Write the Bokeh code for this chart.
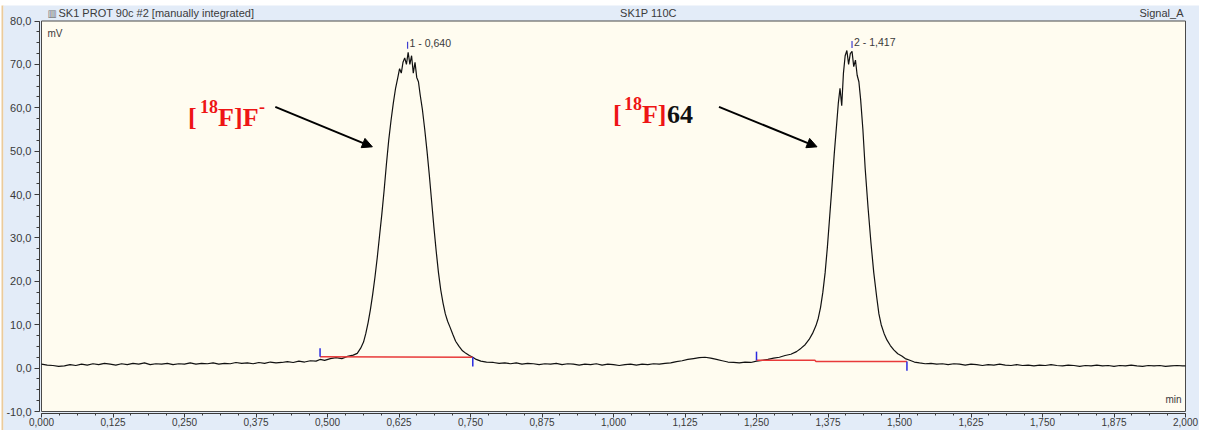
from bokeh.plotting import figure
from bokeh.models import Label, Arrow, NormalHead, FixedTicker, Range1d
from bokeh.embed import file_html
from bokeh.resources import INLINE

# ---------------- data ----------------
time_min = [
    0.00, 0.01, 0.02, 0.03, 0.04, 0.05, 0.06, 0.07, 0.08, 0.09,
    0.10, 0.11, 0.12, 0.13, 0.14, 0.15, 0.16, 0.17, 0.18, 0.19,
    0.20, 0.21, 0.22, 0.23, 0.24, 0.25, 0.26, 0.27, 0.28, 0.29,
    0.30, 0.31, 0.32, 0.33, 0.34, 0.35, 0.36, 0.37, 0.38, 0.39,
    0.40, 0.41, 0.42, 0.43, 0.44, 0.45, 0.46, 0.47, 0.48, 0.487,
    0.495, 0.505, 0.515, 0.525, 0.535, 0.545, 0.552, 0.558, 0.563, 0.567,
    0.571, 0.575, 0.579, 0.583, 0.587, 0.591, 0.595, 0.599, 0.603, 0.607,
    0.611, 0.615, 0.619, 0.623, 0.626, 0.629, 0.632, 0.635, 0.638, 0.641,
    0.644, 0.647, 0.650, 0.653, 0.656, 0.659, 0.662, 0.666, 0.670, 0.674,
    0.678, 0.682, 0.686, 0.690, 0.694, 0.698, 0.702, 0.706, 0.710, 0.714,
    0.719, 0.724, 0.730, 0.736, 0.742, 0.748, 0.754, 0.760, 0.768, 0.778,
    0.79, 0.80, 0.81, 0.82, 0.83, 0.84, 0.85, 0.86, 0.87, 0.88,
    0.89, 0.90, 0.91, 0.92, 0.93, 0.94, 0.95, 0.96, 0.97, 0.98,
    0.99, 1.00, 1.01, 1.02, 1.03, 1.04, 1.05, 1.06, 1.07, 1.08,
    1.09, 1.10, 1.11, 1.12, 1.13, 1.14, 1.15, 1.16, 1.17, 1.18,
    1.19, 1.20, 1.21, 1.22, 1.23, 1.24, 1.25, 1.26, 1.27, 1.28,
    1.29, 1.30, 1.31, 1.32, 1.328, 1.335, 1.342, 1.348, 1.354, 1.358,
    1.362, 1.366, 1.370, 1.374, 1.378, 1.382, 1.386, 1.390, 1.393, 1.396,
    1.399, 1.402, 1.405, 1.408, 1.411, 1.414, 1.417, 1.420, 1.423, 1.426,
    1.429, 1.432, 1.436, 1.440, 1.445, 1.450, 1.455, 1.460, 1.464, 1.468,
    1.473, 1.478, 1.484, 1.490, 1.497, 1.504, 1.510, 1.518, 1.526, 1.535,
    1.545, 1.555, 1.565, 1.575, 1.585, 1.595, 1.605, 1.615, 1.625, 1.635,
    1.645, 1.655, 1.665, 1.675, 1.685, 1.695, 1.705, 1.715, 1.725, 1.735,
    1.745, 1.755, 1.765, 1.775, 1.785, 1.795, 1.805, 1.815, 1.825, 1.835,
    1.845, 1.855, 1.865, 1.875, 1.885, 1.895, 1.905, 1.915, 1.925, 1.935,
    1.945, 1.955, 1.965, 1.975, 1.985, 1.995, 2.000,
]
signal_mv = [
    0.9, 0.7, 0.6, 0.4, 0.5, 0.8, 0.6, 0.9, 0.7, 1.0,
    0.8, 1.1, 0.9, 0.7, 1.0, 0.8, 1.1, 0.9, 1.2, 0.8,
    1.0, 0.9, 1.1, 0.8, 1.0, 0.9, 1.2, 0.9, 1.1, 1.0,
    1.2, 0.9, 1.1, 1.0, 1.3, 1.1, 1.2, 1.0, 1.3, 1.1,
    1.4, 1.2, 1.3, 1.5, 1.3, 1.6, 1.4, 1.7, 1.6, 2.0,
    1.8, 2.2, 2.4, 2.2, 2.7, 3.0, 3.4, 4.6, 6.0, 8.0,
    10.5, 13.5, 17.0, 21.0, 25.5, 30.5, 35.5, 41.0, 47.0, 52.5,
    57.0, 61.0, 64.5, 67.0, 69.0, 68.0, 70.5, 71.5, 70.0, 72.8,
    70.0, 72.0, 68.0, 70.5, 67.0, 66.0, 63.0, 59.5, 55.0, 50.0,
    44.5, 38.5, 32.5, 27.0, 22.0, 18.0, 15.0, 12.5, 10.8, 9.5,
    7.8, 6.2, 5.0, 4.0, 3.4, 2.9, 2.5, 2.0, 1.6, 1.4,
    1.3, 1.1, 1.2, 1.0, 1.2, 0.9, 1.1, 1.0, 0.8, 1.0,
    0.9, 1.1, 0.8, 1.0, 0.9, 0.7, 0.9, 0.8, 1.0, 0.7,
    0.9, 0.8, 0.6, 0.8, 0.9, 0.7, 0.9, 0.8, 1.0, 0.9,
    1.1, 1.2, 1.5, 1.7, 2.0, 2.2, 2.4, 2.5, 2.3, 2.0,
    1.7, 1.4, 1.3, 1.2, 1.4, 1.3, 1.6, 1.8, 2.0, 2.3,
    2.5, 2.9, 3.2, 3.8, 4.6, 5.4, 6.6, 8.0, 9.8, 11.5,
    14.0, 17.5, 22.0, 28.0, 35.0, 42.0, 49.5, 56.0, 61.0, 64.5,
    60.5, 68.0, 72.0, 73.2, 70.0, 72.5, 73.0, 69.5, 71.0, 67.5,
    66.0, 62.0, 55.0, 46.0, 37.0, 29.0, 22.0, 16.5, 12.5, 10.0,
    8.0, 6.5, 5.2, 4.2, 3.3, 2.8, 2.2, 1.8, 1.4, 1.2,
    1.0, 1.1, 0.9, 1.0, 0.8, 1.0, 0.9, 0.7, 0.9, 0.8,
    0.6, 0.8, 0.7, 0.9, 0.7, 0.6, 0.8, 0.6, 0.7, 0.5,
    0.7, 0.6, 0.8, 0.6, 0.5, 0.7, 0.6, 0.4, 0.6, 0.5,
    0.7, 0.5, 0.6, 0.4, 0.6, 0.5, 0.7, 0.5, 0.4, 0.6,
    0.5, 0.6, 0.4, 0.5, 0.6, 0.5, 0.5,
]

# integration baselines (red) and delimiters (blue)
base1_t = [0.487, 0.754]
base1_mv = [2.6, 2.5]
base2_t = [1.250, 1.352, 1.354, 1.513]
base2_mv = [1.8, 1.8, 1.5, 1.5]
delim_t = [0.487, 0.754, 1.250, 1.513]
delim_from = [2.6, 2.5, 1.8, 1.5]
delim_to = [4.6, 0.4, 3.8, -0.6]

# peaks
peak_t = [0.640, 1.417]
peak_top = [73.6, 73.8]
peak_names = ["1 - 0,640", "2 - 1,417"]

# axes
x_ticks = [0.0, 0.125, 0.25, 0.375, 0.5, 0.625, 0.75, 0.875, 1.0,
           1.125, 1.25, 1.375, 1.5, 1.625, 1.75, 1.875, 2.0]
x_tick_labels = ["0,000", "0,125", "0,250", "0,375", "0,500", "0,625", "0,750", "0,875", "1,000",
                 "1,125", "1,250", "1,375", "1,500", "1,625", "1,750", "1,875", "2,000"]
y_ticks = [-10, 0, 10, 20, 30, 40, 50, 60, 70, 80]
y_tick_labels = ["-10,0", "0,0", "10,0", "20,0", "30,0", "40,0", "50,0", "60,0", "70,0", "80,0"]

# ---------------- layout (pixel geometry of the window) ----------------
W, H = 1199, 430              # figure size; figure starts at window (8, 8)
X0_PX, X2_PX = 49.0, 1193.0   # window x of t=0 and t=2
Y80_PX, YM10_PX = 28.5, 419.0 # window y of 80 mV and -10 mV
KX = (X2_PX - X0_PX) / 2.0
KY = (YM10_PX - Y80_PX) / 90.0


def X(wx):
    return (wx - X0_PX) / KX


def Y(wy):
    return 80.0 - (wy - Y80_PX) / KY


BLUE_BG = "#E3ECF8"
CREAM = "#FFFCF0"
TAN = "#EBCB9B"
AX = "#3A3A3A"
TXT = "#3A3A3A"

p = figure(width=W, height=H,
           x_range=Range1d(X(8), X(8 + W)), y_range=Range1d(Y(8 + H), Y(8)),
           output_backend="svg", toolbar_location=None,
           min_border_left=0, min_border_right=0, min_border_top=0, min_border_bottom=0)
p.background_fill_color = "white"
p.border_fill_color = "white"
p.outline_line_color = None
p.grid.visible = False

# window chrome: tan rule, light-blue panel, cream plot area
p.quad(left=[X(9)], right=[X(11)], bottom=[Y(8 + H)], top=[Y(13)], fill_color=TAN, line_color=None)
p.quad(left=[X(11)], right=[X(8 + W)], bottom=[Y(8 + H)], top=[Y(13)], fill_color=BLUE_BG, line_color=None)
p.quad(left=[x_ticks[0]], right=[x_ticks[-1]], bottom=[y_ticks[0]], top=[y_ticks[-1]],
       fill_color=CREAM, line_color="#4A4A4A", line_width=1)

for ax in (p.xaxis[0], p.yaxis[0]):
    ax.axis_line_color = AX
    ax.major_tick_line_color = AX
    ax.minor_tick_line_color = AX
    ax.major_tick_in = 0
    ax.minor_tick_in = 0
    ax.major_label_text_font = "Liberation Sans"
    ax.major_label_text_color = TXT

p.xaxis.ticker = FixedTicker(ticks=x_ticks, minor_ticks=[i * 0.03125 for i in range(65)])
p.xaxis.major_label_overrides = dict(zip(x_ticks, x_tick_labels))
p.xaxis.major_label_text_font_size = "10px"
p.xaxis.major_label_standoff = 0
p.xaxis.major_tick_out = 4
p.xaxis.minor_tick_out = 2
p.xaxis.bounds = (0, 2.0)
p.xaxis.fixed_location = Y(YM10_PX + 2)

p.yaxis.ticker = FixedTicker(ticks=y_ticks, minor_ticks=[-10 + i * 2.5 for i in range(37)])
p.yaxis.major_label_overrides = dict(zip(y_ticks, y_tick_labels))
p.yaxis.major_label_text_font_size = "11px"
p.yaxis.major_label_standoff = 3
p.yaxis.major_tick_out = 5
p.yaxis.minor_tick_out = 3
p.yaxis.bounds = (-10, 80)
p.yaxis.fixed_location = X(X0_PX - 2)

# trace
p.line(time_min, signal_mv, line_color="#111111", line_width=1.2)

# integration baselines
p.line(base1_t, base1_mv, line_color="#E83A3A", line_width=1.5)
p.line(base2_t, base2_mv, line_color="#E83A3A", line_width=1.5)
p.segment(x0=delim_t, y0=delim_from, x1=delim_t, y1=delim_to, line_color="#2A2AE0", line_width=1.5)

# peak apex marks and labels
p.segment(x0=peak_t, y0=peak_top, x1=peak_t, y1=[v + 1.6 for v in peak_top],
          line_color="#4040D0", line_width=1.2)
for t, top, name in zip(peak_t, peak_top, peak_names):
    p.add_layout(Label(x=t, y=top, x_offset=2, text=name, text_font="Liberation Sans",
                       text_font_size="10.5px", text_color=TXT, text_baseline="bottom"))

# header texts (in band above the plot area)
p.add_layout(Label(x=0, y=80, x_offset=6, y_offset=8, text="\u25A5", text_font="DejaVu Sans",
                   text_font_size="10px", text_color="#707070", text_baseline="middle"))
p.add_layout(Label(x=0, y=80, x_offset=17, y_offset=8, text="SK1 PROT 90c #2 [manually integrated]",
                   text_font="Liberation Sans", text_font_size="11px", text_color=TXT,
                   text_baseline="middle"))
p.add_layout(Label(x=1.061, y=80, y_offset=8, text="SK1P 110C", text_align="center",
                   text_font="Liberation Sans", text_font_size="11px", text_color=TXT,
                   text_baseline="middle"))
p.add_layout(Label(x=2.0, y=80, x_offset=-2, y_offset=8, text="Signal_A", text_align="right",
                   text_font="Liberation Sans", text_font_size="11px", text_color=TXT,
                   text_baseline="middle"))

# unit labels inside plot area
p.add_layout(Label(x=0, y=80, x_offset=6, y_offset=-18, text="mV",
                   text_font="Liberation Sans", text_font_size="10px", text_color=TXT))
p.add_layout(Label(x=2.0, y=-10, x_offset=-4, y_offset=7, text="min", text_align="right",
                   text_font="Liberation Sans", text_font_size="10px", text_color=TXT))

# compound annotations
RED = "#EE1515"
SERIF = "Liberation Serif"


def piece(x, y, dx, dy, txt, size, color):
    p.add_layout(Label(x=x, y=y, x_offset=dx, y_offset=dy, text=txt, text_font=SERIF,
                       text_font_style="bold", text_font_size=size, text_color=color,
                       text_baseline="alphabetic"))


x1, y1 = 0.2563, 57.7
piece(x1, y1, 0, 0, "[", "26px", RED)
piece(x1, y1, 12, 11, "18", "18px", RED)
piece(x1, y1, 30, 0, "F]F", "26px", RED)
piece(x1, y1, 71, 11, "-", "18px", RED)

x2, y2 = 0.9991, 58.4
piece(x2, y2, 0, 0, "[", "26px", RED)
piece(x2, y2, 11, 11, "18", "18px", RED)
piece(x2, y2, 29, 0, "F]", "26px", RED)
piece(x2, y2, 54, 0, "64", "26px", "#111111")

for xs, ys, xe, ye in [(0.4087, 60.2, 0.5784, 51.0), (1.1844, 60.2, 1.3558, 51.0)]:
    p.add_layout(Arrow(end=NormalHead(size=10, fill_color="black", line_color="black"),
                       x_start=xs, y_start=ys, x_end=xe, y_end=ye,
                       line_color="black", line_width=2))

open("out.html", "w").write(file_html(p, INLINE))
